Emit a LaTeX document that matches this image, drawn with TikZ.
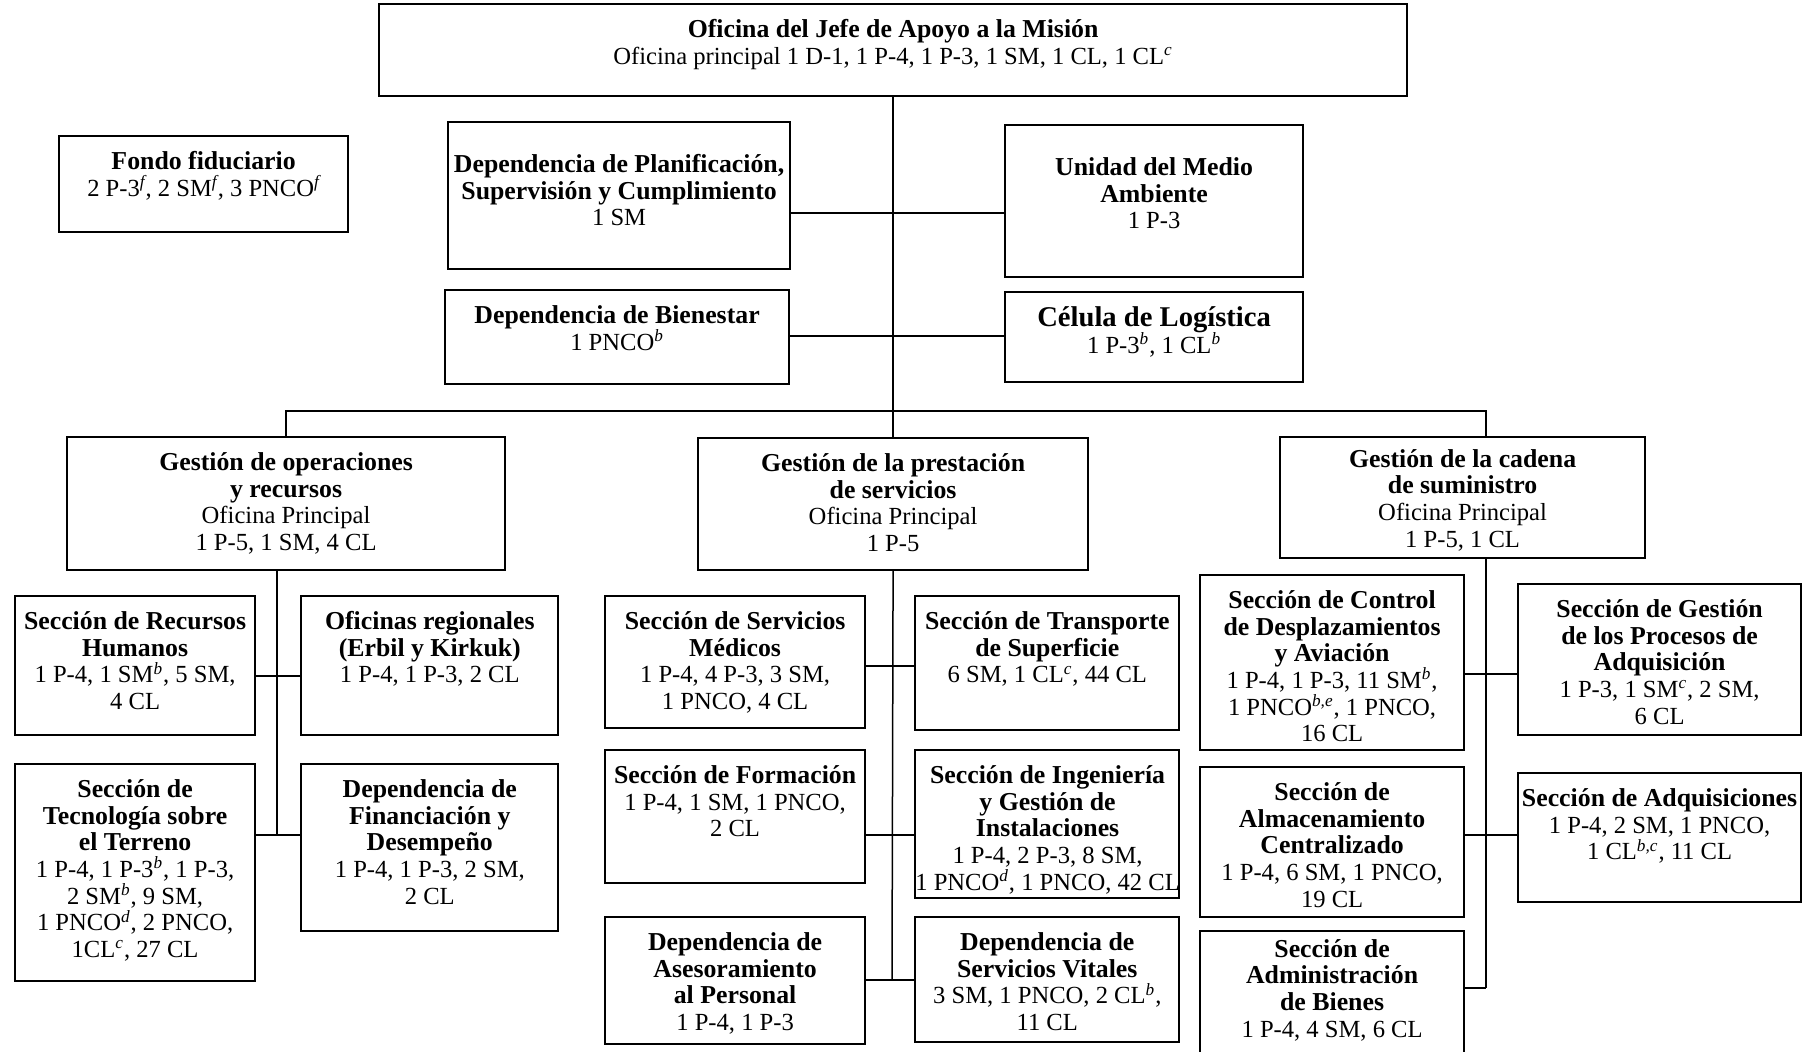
\documentclass[tikz,border=0pt]{standalone}
\usepackage{fontspec}
\setmainfont{Liberation Serif}
\usepackage{xcolor}
\colorlet{colorBox}{black}
\colorlet{colorLine}{black}
\usepackage{tikz}
\usetikzlibrary{positioning}
\newcommand{\supn}[1]{\smash{\textsuperscript{\itshape #1}}}
\newcommand{\hdg}[1]{{\fontsize{12.9}{13.3}\selectfont\bfseries #1}}
\newcommand{\unitbox}[4][7.5pt]{\parbox[t][#3][t]{#2}{\centering\vspace*{#1}\begin{tabular}{@{}c@{}}#4\end{tabular}}}

\begin{document}
\begin{tikzpicture}[x=0.5pt, y=-0.5pt, unit/.style={draw=colorBox, line width=1.1pt, inner sep=0pt, anchor=north west, font=\fontsize{12.3}{13.3}\selectfont}, link/.style={draw=colorLine, line width=0.75pt}]
\useasboundingbox (0,0) rectangle (1812,1051);
\node[unit] (o0) at (378,3) {\unitbox{514pt}{46pt}{\hdg{Oficina del Jefe de Apoyo a la Misión}\\Oficina principal 1 D-1, 1 P-4, 1 P-3, 1 SM, 1 CL, 1 CL\supn{c}}};
\node[unit] (f0) at (58,135) {\unitbox{144.5pt}{48pt}{\hdg{Fondo fiduciario}\\2 P-3\supn{f}, 2 SM\supn{f}, 3 PNCO\supn{f}}};
\node[unit] (a1) at (447,121) {\unitbox[16pt]{171pt}{73.5pt}{\hdg{Dependencia de Planificación,}\\\hdg{Supervisión y Cumplimiento}\\1 SM}};
\node[unit] (a2) at (1004,124) {\unitbox[16pt]{149pt}{76pt}{\hdg{Unidad del Medio}\\\hdg{Ambiente}\\1 P-3}};
\node[unit] (a3) at (444,289) {\unitbox{172pt}{47pt}{\hdg{Dependencia de Bienestar}\\1 PNCO\supn{b}}};
\node[unit] (a4) at (1004,291) {\unitbox{149pt}{45pt}{{\fontsize{14.3}{15}\selectfont\bfseries Célula de Logística}\\1 P-3\supn{b}, 1 CL\supn{b}}};
\node[unit] (g1) at (66,436) {\unitbox{219pt}{66.5pt}{\hdg{Gestión de operaciones}\\\hdg{y recursos}\\Oficina Principal\\1 P-5, 1 SM, 4 CL}};
\node[unit] (g2) at (697,437) {\unitbox{195pt}{66pt}{\hdg{Gestión de la prestación}\\\hdg{de servicios}\\Oficina Principal\\1 P-5}};
\node[unit] (g3) at (1279,436) {\unitbox[5.8pt]{182.5pt}{60.5pt}{\hdg{Gestión de la cadena}\\\hdg{de suministro}\\Oficina Principal\\1 P-5, 1 CL}};
\node[unit] (s11) at (14,595) {\unitbox{120pt}{69.5pt}{\hdg{Sección de Recursos}\\\hdg{Humanos}\\1 P-4, 1 SM\supn{b}, 5 SM,\\4 CL}};
\node[unit, right=22pt of s11.north east, anchor=north west] (s12) {\unitbox{128.5pt}{69.5pt}{\hdg{Oficinas regionales}\\\hdg{(Erbil y Kirkuk)}\\1 P-4, 1 P-3, 2 CL}};
\node[unit] (s13) at (14,763) {\unitbox{120pt}{108.5pt}{\hdg{Sección de}\\\hdg{Tecnología sobre}\\\hdg{el Terreno}\\1 P-4, 1 P-3\supn{b}, 1 P-3,\\2 SM\supn{b}, 9 SM,\\1 PNCO\supn{d}, 2 PNCO,\\1CL\supn{c}, 27 CL}};
\node[unit, right=22pt of s13.north east, anchor=north west] (s14) {\unitbox{128.5pt}{83.5pt}{\hdg{Dependencia de}\\\hdg{Financiación y}\\\hdg{Desempeño}\\1 P-4, 1 P-3, 2 SM,\\2 CL}};
\node[unit] (s21) at (604,595) {\unitbox{130pt}{66pt}{\hdg{Sección de Servicios}\\\hdg{Médicos}\\1 P-4, 4 P-3, 3 SM,\\1 PNCO, 4 CL}};
\node[unit, right=24pt of s21.north east, anchor=north west] (s22) {\unitbox{132pt}{67pt}{\hdg{Sección de Transporte}\\\hdg{de Superficie}\\6 SM, 1 CL\supn{c}, 44 CL}};
\node[unit] (s23) at (604,749) {\unitbox{130pt}{66.5pt}{\hdg{Sección de Formación}\\1 P-4, 1 SM, 1 PNCO,\\2 CL}};
\node[unit, right=24pt of s23.north east, anchor=north west] (s24) {\unitbox{132pt}{74pt}{\hdg{Sección de Ingeniería}\\\hdg{y Gestión de}\\\hdg{Instalaciones}\\1 P-4, 2 P-3, 8 SM,\\1 PNCO\supn{d}, 1 PNCO, 42 CL}};
\node[unit] (s25) at (604,916) {\unitbox{130pt}{63.5pt}{\hdg{Dependencia de}\\\hdg{Asesoramiento}\\\hdg{al Personal}\\1 P-4, 1 P-3}};
\node[unit, right=24pt of s25.north east, anchor=north west] (s26) {\unitbox{132pt}{62.5pt}{\hdg{Dependencia de}\\\hdg{Servicios Vitales}\\3 SM, 1 PNCO, 2 CL\supn{b},\\11 CL}};
\node[unit] (s31) at (1199,574) {\unitbox{132pt}{87.5pt}{\hdg{Sección de Control}\\\hdg{de Desplazamientos}\\\hdg{y Aviación}\\1 P-4, 1 P-3, 11 SM\supn{b},\\1 PNCO\supn{b,e}, 1 PNCO,\\16 CL}};
\node[unit] (s32) at (1517,583) {\unitbox{141.5pt}{75.5pt}{\hdg{Sección de Gestión}\\\hdg{de los Procesos de}\\\hdg{Adquisición}\\1 P-3, 1 SM\supn{c}, 2 SM,\\6 CL}};
\node[unit] (s33) at (1199,766) {\unitbox{132pt}{75pt}{\hdg{Sección de}\\\hdg{Almacenamiento}\\\hdg{Centralizado}\\1 P-4, 6 SM, 1 PNCO,\\19 CL}};
\node[unit] (s34) at (1517,772) {\unitbox{141.5pt}{64.5pt}{\hdg{Sección de Adquisiciones}\\1 P-4, 2 SM, 1 PNCO,\\1 CL\supn{b,c}, 11 CL}};
\node[unit] (s35) at (1199,930) {\unitbox[3.8pt]{132pt}{70pt}{\hdg{Sección de}\\\hdg{Administración}\\\hdg{de Bienes}\\1 P-4, 4 SM, 6 CL}};
\coordinate (j1) at (892,213);
\coordinate (j2) at (892,336);
\coordinate (b3) at (1486,411);
\coordinate (l1) at (277,676);
\coordinate (l2) at (277,835);
\coordinate (m1) at (892,666);
\coordinate (m2) at (892,835);
\coordinate (m3) at (892,980);
\coordinate (r1) at (1486,674);
\coordinate (r2) at (1486,835);
\coordinate (r3) at (1486,988);
\draw [link] (o0.south) -- (g2.north);
\draw [link] (g1.north) |- (b3) -- (b3 |- g3.north);
\draw [link] (a1.east |- j1) -- (a2.west |- j1);
\draw [link] (a3.east |- j2) -- (a4.west |- j2);
\draw [link] (g1.south -| l1) -- (l2);
\draw [link] (s11.east |- l1) -- (s12.west |- l1);
\draw [link] (s13.east |- l2) -- (s14.west |- l2);
\draw [link] (g2.south) -- (m3);
\draw [link] (s21.east |- m1) -- (s22.west |- m1);
\draw [link] (s23.east |- m2) -- (s24.west |- m2);
\draw [link] (s25.east |- m3) -- (s26.west |- m3);
\draw [link] (g3.south -| r1) -- (r3);
\draw [link] (s31.east |- r1) -- (s32.west |- r1);
\draw [link] (s33.east |- r2) -- (s34.west |- r2);
\draw [link] (s35.east |- r3) -- (r3);
\end{tikzpicture}
\end{document}
